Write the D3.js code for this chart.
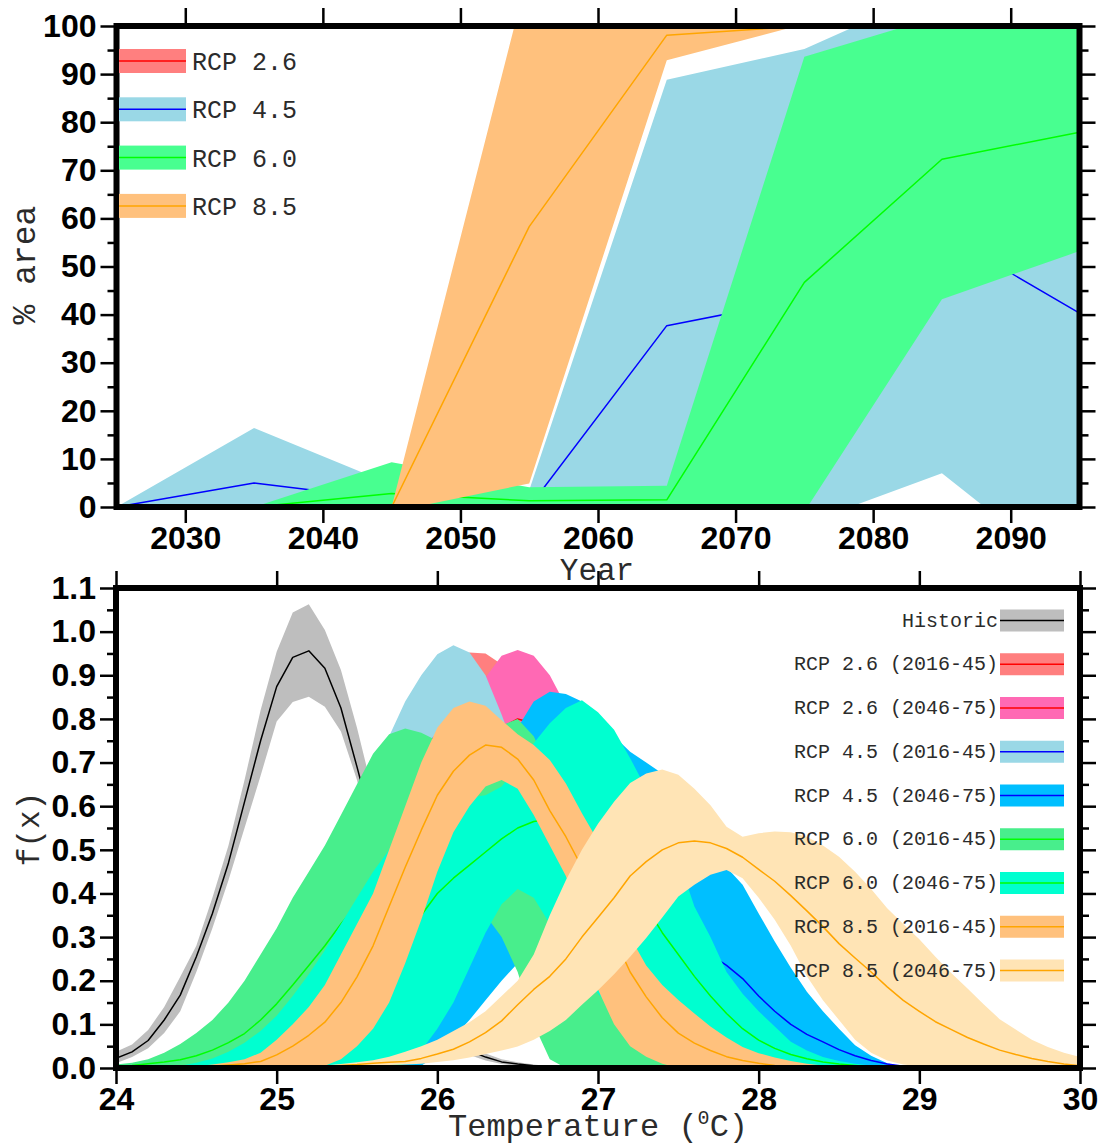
<!DOCTYPE html>
<html>
<head>
<meta charset="utf-8">
<script src="https://cdn.jsdelivr.net/npm/d3@7"></script>
<style>
  html, body { margin: 0; padding: 0; background: #ffffff; }
  svg { display: block; }
</style>
</head>
<body>
<svg id="chart" width="1104" height="1146"></svg>
<script>
// ---------------- Panel A: % area per RCP scenario ----------------
const years = [2025, 2035, 2045, 2055, 2065, 2075, 2085, 2095];
const yearTicks = [2030, 2040, 2050, 2060, 2070, 2080, 2090];
const areaTicks = [0, 10, 20, 30, 40, 50, 60, 70, 80, 90, 100];
const areaMinorTicks = [5, 15, 25, 35, 45, 55, 65, 75, 85, 95];

const rcpLabels = ["RCP 2.6", "RCP 4.5", "RCP 6.0", "RCP 8.5"];

const rcp26Mean = [0, 0, 0, 0, 0, 0, 0, 0];
const rcp26Low  = [0, 0, 0, 0, 0, 0, 0, 0];
const rcp26High = [0, 0, 0, 0, 0, 0, 0, 0];

const rcp45Mean = [0, 5, 1.5, 0, 37.7, 43.3, 57, 40.3];
const rcp45Low  = [0, -6.4, -1.7, -3.5, -13.4, -3.5, 7, -15.6];
const rcp45High = [0, 16.4, 4.7, 3.5, 88.8, 95.2, 108, 105];

const rcp60Mean = [0, 0, 2.8, 1.3, 1.5, 46.7, 72.3, 77.9];
const rcp60Low  = [0, 0, -3.7, -1.5, -1.4, -1, 43.2, 53.2];
const rcp60High = [0, 0, 9.3, 4.1, 4.4, 93.6, 102.2, 104];

const rcp85Mean = [0, 0, 0, 58.3, 98.1, 100, 100, 100];
const rcp85Low  = [0, 0, -1, 4.9, 92.9, 100.4, 100, 100];
const rcp85High = [0, 0, 0, 112, 115, 115, 115, 115];

// ---------------- Panel B: temperature density f(x) ----------------
const tempGrid = [
  24.0, 24.1, 24.2, 24.3, 24.4, 24.5, 24.6, 24.7, 24.8, 24.9,
  25.0, 25.1, 25.2, 25.3, 25.4, 25.5, 25.6, 25.7, 25.8, 25.9,
  26.0, 26.1, 26.2, 26.3, 26.4, 26.5, 26.6, 26.7, 26.8, 26.9,
  27.0, 27.1, 27.2, 27.3, 27.4, 27.5, 27.6, 27.7, 27.8, 27.9,
  28.0, 28.1, 28.2, 28.3, 28.4, 28.5, 28.6, 28.7, 28.8, 28.9,
  29.0, 29.1, 29.2, 29.3, 29.4, 29.5, 29.6, 29.7, 29.8, 29.9,
  30.0
];
const tempTicks = [24, 25, 26, 27, 28, 29, 30];
const densTicks = [0, 0.1, 0.2, 0.3, 0.4, 0.5, 0.6, 0.7, 0.8, 0.9, 1.0, 1.1];
const densMinorTicks = [0.05, 0.15, 0.25, 0.35, 0.45, 0.55, 0.65, 0.75, 0.85, 0.95, 1.05];

const densLabels = ["Historic", "RCP 2.6 (2016-45)", "RCP 2.6 (2046-75)", "RCP 4.5 (2016-45)",
  "RCP 4.5 (2046-75)", "RCP 6.0 (2016-45)", "RCP 6.0 (2046-75)", "RCP 8.5 (2016-45)", "RCP 8.5 (2046-75)"];

// Historic
const histMean = [
  .022,.037,.063,.11,.167,.255,.354,.47,.61,.75,
  .874,.941,.956,.916,.825,.69,.55,.41,.29,.19,
  .12,.07,.04,.025,.014,.009,.005,.003,.001,0,
  0,0,0,0,0,0,0,0,0,0, 0,0,0,0,0,0,0,0,0,0, 0,0,0,0,0,0,0,0,0,0, 0];
const histHigh = [
  .037,.054,.087,.14,.209,.28,.39,.51,.66,.82,
  .954,1.044,1.063,1.004,.912,.78,.63,.47,.33,.22,
  .14,.085,.05,.033,.02,.013,.008,.004,.002,0,
  0,0,0,0,0,0,0,0,0,0, 0,0,0,0,0,0,0,0,0,0, 0,0,0,0,0,0,0,0,0,0, 0];
const histLow = [
  .011,.025,.045,.08,.13,.22,.32,.43,.55,.67,
  .794,.839,.851,.828,.771,.66,.5,.36,.25,.16,
  .1,.055,.03,.017,.009,.005,.002,.001,0,0,
  0,0,0,0,0,0,0,0,0,0, 0,0,0,0,0,0,0,0,0,0, 0,0,0,0,0,0,0,0,0,0, 0];

// RCP 2.6 (2016-45)
const r26EarlyMean = [
  0,0,0,0,0,0,.003,.006,.012,.022,
  .04,.065,.1,.15,.21,.29,.38,.48,.58,.67,
  .75,.8,.83,.83,.8,.74,.66,.57,.47,.37,
  .28,.2,.14,.09,.055,.03,.016,.008,.003,.001,
  0,0,0,0,0,0,0,0,0,0, 0,0,0,0,0,0,0,0,0,0, 0];
const r26EarlyHigh = [
  0,0,0,0,0,.002,.005,.01,.02,.035,
  .06,.09,.13,.19,.26,.35,.45,.56,.67,.77,
  .86,.92,.952,.95,.925,.87,.79,.69,.58,.47,
  .36,.27,.19,.13,.085,.05,.028,.014,.006,.002,
  0,0,0,0,0,0,0,0,0,0, 0,0,0,0,0,0,0,0,0,0, 0];
const r26EarlyLow = [
  0,0,0,0,0,0,0,.002,.004,.009,
  .02,.04,.07,.11,.16,.23,.31,.4,.49,.57,
  .64,.68,.71,.71,.68,.62,.54,.46,.37,.28,
  .2,.14,.09,.055,.03,.015,.007,.003,.001,0,
  0,0,0,0,0,0,0,0,0,0, 0,0,0,0,0,0,0,0,0,0, 0];

// RCP 2.6 (2046-75)
const r26LateMean = [
  0,0,0,0,0,0,0,0,0,0,
  .002,.005,.01,.02,.035,.06,.1,.15,.22,.31,
  .41,.52,.62,.71,.78,.8,.79,.745,.68,.6,
  .51,.42,.33,.25,.18,.12,.08,.05,.028,.015,
  .007,.003,.001,0,0,0,0,0,0,0, 0,0,0,0,0,0,0,0,0,0, 0];
const r26LateHigh = [
  0,0,0,0,0,0,0,0,0,0,
  .003,.008,.016,.03,.055,.095,.15,.23,.33,.44,
  .56,.69,.8,.895,.945,.958,.945,.9,.83,.74,
  .64,.53,.42,.32,.23,.16,.1,.06,.035,.018,
  .008,.003,.001,0,0,0,0,0,0,0, 0,0,0,0,0,0,0,0,0,0, 0];
const r26LateLow = [
  0,0,0,0,0,0,0,0,0,0,
  .001,.002,.004,.01,.015,.025,.05,.07,.11,.18,
  .26,.35,.44,.525,.615,.642,.635,.59,.53,.46,
  .38,.31,.24,.18,.13,.08,.06,.04,.021,.012,
  .006,.003,.001,0,0,0,0,0,0,0, 0,0,0,0,0,0,0,0,0,0, 0];

// RCP 4.5 (2016-45)
const r45EarlyMean = [
  0,0,0,.001,.003,.006,.012,.022,.04,.065,
  .1,.15,.21,.28,.36,.44,.52,.6,.67,.73,
  .765,.78,.77,.73,.66,.58,.49,.39,.3,.22,
  .15,.1,.065,.04,.024,.013,.007,.003,.001,0,
  0,0,0,0,0,0,0,0,0,0, 0,0,0,0,0,0,0,0,0,0, 0];
const r45EarlyHigh = [
  0,0,0,.002,.005,.01,.02,.035,.06,.1,
  .15,.22,.3,.39,.49,.59,.68,.76,.84,.9,
  .948,.969,.952,.9,.81,.71,.6,.49,.38,.28,
  .2,.14,.09,.06,.035,.02,.011,.005,.002,0,
  0,0,0,0,0,0,0,0,0,0, 0,0,0,0,0,0,0,0,0,0, 0];
const r45EarlyLow = [
  0,0,0,0,.001,.002,.004,.009,.02,.03,
  .05,.08,.12,.17,.23,.29,.36,.44,.5,.56,
  .58,.59,.59,.56,.51,.45,.38,.29,.22,.16,
  .1,.06,.04,.02,.013,.006,.003,.001,0,0,
  0,0,0,0,0,0,0,0,0,0, 0,0,0,0,0,0,0,0,0,0, 0];

// RCP 4.5 (2046-75)
const r45LateMean = [
  0,0,0,0,0,0,0,0,0,0,
  .001,.003,.006,.012,.022,.035,.05,.07,.1,.14,
  .19,.24,.29,.34,.395,.44,.47,.49,.5,.5,
  .49,.47,.44,.41,.37,.33,.29,.26,.235,.205,
  .165,.13,.1,.077,.06,.042,.028,.017,.009,.004,
  .001,0,0,0,0,0,0,0,0,0, 0];
const r45LateHigh = [
  0,0,0,0,0,0,0,0,0,0,
  .003,.006,.012,.02,.035,.055,.085,.12,.17,.23,
  .3,.39,.49,.6,.7,.78,.84,.862,.857,.84,
  .8,.76,.725,.7,.675,.63,.58,.52,.46,.42,
  .354,.29,.23,.175,.13,.09,.052,.028,.011,.003,
  0,0,0,0,0,0,0,0,0,0, 0];
const r45LateLow = [
  0,0,0,0,0,0,0,0,0,0,
  0,0,0,0,0,0,0,0,0,.005,
  .03,.07,.11,.155,.2,.24,.27,.29,.3,.3,
  .29,.27,.24,.21,.18,.15,.12,.09,.07,.05,
  .035,.02,.012,.007,.004,.002,.001,0,0,0,
  0,0,0,0,0,0,0,0,0,0, 0];

// RCP 6.0 (2016-45)
const r60EarlyMean = [
  .003,.006,.01,.014,.019,.028,.041,.058,.079,.11,
  .147,.19,.235,.28,.33,.375,.41,.44,.46,.475,
  .485,.49,.495,.495,.49,.47,.43,.38,.32,.26,
  .2,.14,.09,.06,.04,.025,.015,.008,.004,.002,
  .001,0,0,0,0,0,0,0,0,0, 0,0,0,0,0,0,0,0,0,0, 0];
const r60EarlyHigh = [
  .008,.012,.02,.035,.055,.08,.11,.15,.2,.26,
  .32,.39,.45,.51,.58,.65,.72,.765,.778,.768,
  .75,.74,.745,.76,.785,.8,.76,.68,.6,.52,
  .44,.36,.29,.22,.16,.11,.075,.05,.03,.015,
  .007,.003,.001,0,0,0,0,0,0,0, 0,0,0,0,0,0,0,0,0,0, 0];
const r60EarlyLow = [
  0,0,0,0,0,0,0,0,0,0,
  0,0,.02,.05,.08,.12,.16,.2,.24,.27,
  .3,.32,.34,.35,.3,.22,.1,.02,0,0,
  0,0,0,0,0,0,0,0,0,0, 0,0,0,0,0,0,0,0,0,0, 0,0,0,0,0,0,0,0,0,0, 0];

// RCP 6.0 (2046-75)
const r60LateMean = [
  0,0,0,0,0,.001,.003,.006,.01,.016,
  .025,.04,.06,.085,.12,.16,.2,.25,.3,.35,
  .4,.435,.465,.495,.525,.55,.565,.57,.565,.55,
  .52,.48,.43,.37,.31,.26,.21,.165,.125,.09,
  .064,.045,.031,.021,.014,.009,.006,.003,.002,.001,
  0,0,0,0,0,0,0,0,0,0, 0];
const r60LateHigh = [
  0,0,0,0,.005,.012,.022,.037,.058,.085,
  .12,.165,.215,.27,.33,.39,.45,.5,.55,.58,
  .61,.615,.62,.625,.645,.69,.744,.79,.825,.843,
  .815,.775,.71,.64,.56,.48,.37,.3,.22,.17,
  .13,.095,.06,.04,.025,.016,.01,.006,.003,.001,
  0,0,0,0,0,0,0,0,0,0, 0];
const r60LateLow = [
  0,0,0,0,0,0,0,0,0,0,
  0,0,0,0,0,0,0,0,.01,.04,
  .09,.15,.23,.31,.375,.41,.39,.33,.27,.22,
  .17,.13,.1,.07,.045,.02,0,0,0,0,
  0,0,0,0,0,0,0,0,0,0, 0,0,0,0,0,0,0,0,0,0, 0];

// RCP 8.5 (2016-45)
const r85EarlyMean = [
  0,0,0,0,0,.002,.004,.007,.01,.015,
  .03,.05,.075,.105,.15,.209,.28,.37,.46,.545,
  .625,.68,.717,.74,.735,.708,.66,.59,.53,.46,
  .38,.3,.22,.163,.115,.08,.057,.04,.026,.017,
  .011,.006,.003,.001,0,0,0,0,0,0, 0,0,0,0,0,0,0,0,0,0, 0];
const r85EarlyHigh = [
  0,0,0,0,.001,.004,.008,.013,.02,.035,
  .065,.1,.14,.19,.26,.33,.4,.5,.6,.7,
  .78,.825,.84,.83,.797,.765,.74,.706,.652,.584,
  .52,.41,.3,.235,.19,.156,.125,.095,.07,.048,
  .034,.024,.016,.01,.006,.003,.001,0,0,0, 0,0,0,0,0,0,0,0,0,0, 0];
const r85EarlyLow = [
  0,0,0,0,0,0,0,0,0,0,
  0,0,0,.005,.02,.05,.09,.15,.24,.34,
  .45,.54,.6,.645,.66,.64,.58,.51,.44,.34,
  .18,.1,.05,.026,.01,0,0,0,0,0,
  0,0,0,0,0,0,0,0,0,0, 0,0,0,0,0,0,0,0,0,0, 0];

// RCP 8.5 (2046-75)
const r85LateMean = [
  0,0,0,0,0,0,0,0,0,0,
  0,.001,.002,.004,.006,.008,.011,.013,.015,.022,
  .032,.043,.06,.081,.108,.145,.18,.21,.25,.3,
  .345,.39,.44,.473,.5,.516,.52,.516,.503,.483,
  .455,.428,.395,.36,.324,.285,.252,.22,.186,.155,
  .13,.106,.088,.07,.055,.041,.031,.022,.015,.009,
  .005];
const r85LateHigh = [
  0,0,0,0,0,0,0,0,0,0,
  0,.002,.004,.006,.009,.013,.018,.026,.037,.05,
  .065,.085,.105,.13,.165,.2,.26,.35,.43,.5,
  .56,.61,.653,.675,.684,.672,.64,.602,.553,.53,
  .538,.542,.54,.53,.51,.484,.45,.41,.366,.33,
  .295,.255,.217,.182,.146,.112,.088,.065,.048,.035,
  .025];
const r85LateLow = [
  0,0,0,0,0,0,0,0,0,0,
  0,0,.001,.002,.003,.004,.006,.007,.008,.01,
  .014,.018,.024,.032,.04,.049,.065,.085,.11,.145,
  .178,.215,.255,.298,.345,.393,.42,.443,.454,.435,
  .39,.34,.28,.21,.155,.11,.065,.035,.017,.008,
  .004,.002,0,0,0,0,0,0,0,0,
  0];

// ---------------- Styling ----------------
const MONO = "'Liberation Mono', 'Courier New', Courier, monospace";
const SANS = "'Liberation Sans', Arial, Helvetica, sans-serif";
const TEXT_GREY = "#2b2b2b";

const areaSeries = [
  { label: rcpLabels[0], fill: "#FF7F7F", stroke: "#FF0000", mean: rcp26Mean, lo: rcp26Low, hi: rcp26High },
  { label: rcpLabels[1], fill: "#9AD8E6", stroke: "#0000FF", mean: rcp45Mean, lo: rcp45Low, hi: rcp45High },
  { label: rcpLabels[2], fill: "#48FF90", stroke: "#00FF00", mean: rcp60Mean, lo: rcp60Low, hi: rcp60High },
  { label: rcpLabels[3], fill: "#FFC17D", stroke: "#FFA500", mean: rcp85Mean, lo: rcp85Low, hi: rcp85High }
];

const densSeries = [
  { label: densLabels[0], fill: "#BEBEBE", stroke: "#000000", mean: histMean, lo: histLow, hi: histHigh },
  { label: densLabels[1], fill: "#FF7F7F", stroke: "#FF0000", mean: r26EarlyMean, lo: r26EarlyLow, hi: r26EarlyHigh },
  { label: densLabels[2], fill: "#FF69B4", stroke: "#FF0000", mean: r26LateMean, lo: r26LateLow, hi: r26LateHigh },
  { label: densLabels[3], fill: "#9AD8E6", stroke: "#0000FF", mean: r45EarlyMean, lo: r45EarlyLow, hi: r45EarlyHigh },
  { label: densLabels[4], fill: "#00BFFF", stroke: "#0000FF", mean: r45LateMean, lo: r45LateLow, hi: r45LateHigh },
  { label: densLabels[5], fill: "#48EE8C", stroke: "#00FF00", mean: r60EarlyMean, lo: r60EarlyLow, hi: r60EarlyHigh },
  { label: densLabels[6], fill: "#00FFD0", stroke: "#00FF00", mean: r60LateMean, lo: r60LateLow, hi: r60LateHigh },
  { label: densLabels[7], fill: "#FFC17D", stroke: "#FFA500", mean: r85EarlyMean, lo: r85EarlyLow, hi: r85EarlyHigh },
  { label: densLabels[8], fill: "#FFE4B5", stroke: "#FFA500", mean: r85LateMean, lo: r85LateLow, hi: r85LateHigh }
];

const svg = d3.select("#chart");

// scales
const xYear = d3.scaleLinear().domain([2025, 2095]).range([116.5, 1079.5]);
const yArea = d3.scaleLinear().domain([0, 100]).range([507, 26]);
const xTemp = d3.scaleLinear().domain([24, 30]).range([116, 1080]);
const yDens = d3.scaleLinear().domain([0, 1.1]).range([1068, 588]);

// clip paths for the two plotting areas
const defs = svg.append("defs");
function addClip(id, x, y) {
  const [x0, x1] = x.range();
  const [yb, yt] = y.range();
  defs.append("clipPath").attr("id", id)
    .append("rect").attr("x", x0).attr("y", yt).attr("width", x1 - x0).attr("height", yb - yt);
}
addClip("clipA", xYear, yArea);
addClip("clipB", xTemp, yDens);

// band + mean line for each series, drawn in legend order
function drawBands(xs, x, y, series, clipId) {
  const g = svg.append("g").attr("clip-path", `url(#${clipId})`);
  series.forEach(s => {
    const rows = xs.map((v, i) => ({ x: v, lo: s.lo[i], hi: s.hi[i], m: s.mean[i] }));
    g.append("path")
      .attr("d", d3.area().x(d => x(d.x)).y0(d => y(d.lo)).y1(d => y(d.hi))(rows))
      .attr("fill", s.fill).attr("stroke", "none");
    g.append("path")
      .attr("d", d3.line().x(d => x(d.x)).y(d => y(d.m))(rows))
      .attr("fill", "none").attr("stroke", s.stroke).attr("stroke-width", 1.5)
      .attr("stroke-linejoin", "round");
  });
}
drawBands(years, xYear, yArea, areaSeries, "clipA");
drawBands(tempGrid, xTemp, yDens, densSeries, "clipB");

// axes
function styleAxis(g) {
  g.select(".domain").remove();
  g.selectAll(".tick line").attr("stroke", "#000").attr("stroke-width", 2.5);
  g.selectAll(".tick text")
    .attr("font-family", SANS).attr("font-weight", "bold")
    .attr("font-size", 32).attr("fill", "#000");
  g.attr("font-family", null).attr("font-size", null);
}
function drawAxes(x, y, xMajor, yMajor, yMinor, xFmt, yFmt, topLen) {
  const [x0, x1] = x.range();
  const [yb, yt] = y.range();
  svg.append("g").attr("transform", `translate(${x0},0)`)
    .call(d3.axisLeft(y).tickValues(yMajor).tickSize(16).tickSizeOuter(0).tickPadding(4).tickFormat(yFmt))
    .call(styleAxis);
  svg.append("g").attr("transform", `translate(${x0},0)`)
    .call(d3.axisLeft(y).tickValues(yMinor).tickSize(9).tickSizeOuter(0).tickFormat(""))
    .call(styleAxis);
  svg.append("g").attr("transform", `translate(${x1},0)`)
    .call(d3.axisRight(y).tickValues(yMajor).tickSize(16).tickSizeOuter(0).tickFormat(""))
    .call(styleAxis);
  svg.append("g").attr("transform", `translate(${x1},0)`)
    .call(d3.axisRight(y).tickValues(yMinor).tickSize(9).tickSizeOuter(0).tickFormat(""))
    .call(styleAxis);
  svg.append("g").attr("transform", `translate(0,${yb})`)
    .call(d3.axisBottom(x).tickValues(xMajor).tickSize(16).tickSizeOuter(0).tickPadding(3).tickFormat(xFmt))
    .call(styleAxis);
  svg.append("g").attr("transform", `translate(0,${yt})`)
    .call(d3.axisTop(x).tickValues(xMajor).tickSize(topLen).tickSizeOuter(0).tickFormat(""))
    .call(styleAxis);
  // frame
  svg.append("rect").attr("x", x0).attr("y", yt).attr("width", x1 - x0).attr("height", yb - yt)
    .attr("fill", "none").attr("stroke", "#000").attr("stroke-width", 6);
}
drawAxes(xYear, yArea, yearTicks, areaTicks, areaMinorTicks, d3.format("d"), d3.format("d"), 18);
drawAxes(xTemp, yDens, tempTicks, densTicks, densMinorTicks, d3.format("d"), d3.format(".1f"), 17);

// legend, panel A (top-left)
const legA = svg.append("g");
areaSeries.forEach((s, i) => {
  const cy = 61 + i * 48.3;
  legA.append("rect").attr("x", 119).attr("y", cy - 12).attr("width", 67).attr("height", 24).attr("fill", s.fill);
  legA.append("line").attr("x1", 119).attr("x2", 186).attr("y1", cy).attr("y2", cy)
    .attr("stroke", s.stroke).attr("stroke-width", 1.5);
  legA.append("text").attr("x", 192).attr("y", cy).attr("dy", "0.36em")
    .attr("font-family", MONO).attr("font-size", 25).attr("fill", TEXT_GREY).text(s.label);
});

// legend, panel B (top-right)
const legB = svg.append("g");
densSeries.forEach((s, i) => {
  const cy = 620.5 + i * 43.75;
  legB.append("rect").attr("x", 1000).attr("y", cy - 11).attr("width", 64).attr("height", 22).attr("fill", s.fill);
  legB.append("line").attr("x1", 1000).attr("x2", 1064).attr("y1", cy).attr("y2", cy)
    .attr("stroke", s.stroke).attr("stroke-width", 1.5);
  legB.append("text").attr("x", 998).attr("y", cy).attr("dy", "0.3em").attr("text-anchor", "end")
    .attr("font-family", MONO).attr("font-size", 20).attr("fill", TEXT_GREY).text(s.label);
});

// axis titles
svg.append("text").attr("transform", "translate(35,265) rotate(-90)").attr("text-anchor", "middle")
  .attr("font-family", MONO).attr("font-size", 33).attr("fill", TEXT_GREY).text("% area");
svg.append("text").attr("x", 597).attr("y", 580).attr("text-anchor", "middle")
  .attr("font-family", MONO).attr("font-size", 31).attr("fill", TEXT_GREY).text("Year");
svg.append("text").attr("transform", "translate(39,829) rotate(-90)").attr("text-anchor", "middle")
  .attr("font-family", MONO).attr("font-size", 31).attr("fill", TEXT_GREY).text("f(x)");
const tTitle = svg.append("text").attr("x", 598).attr("y", 1136).attr("text-anchor", "middle")
  .attr("font-family", MONO).attr("font-size", 32).attr("fill", TEXT_GREY);
tTitle.append("tspan").text("Temperature (");
tTitle.append("tspan").attr("dy", -12).attr("font-size", 20).text("0");
tTitle.append("tspan").attr("dy", 12).text("C)");
</script>
</body>
</html>
